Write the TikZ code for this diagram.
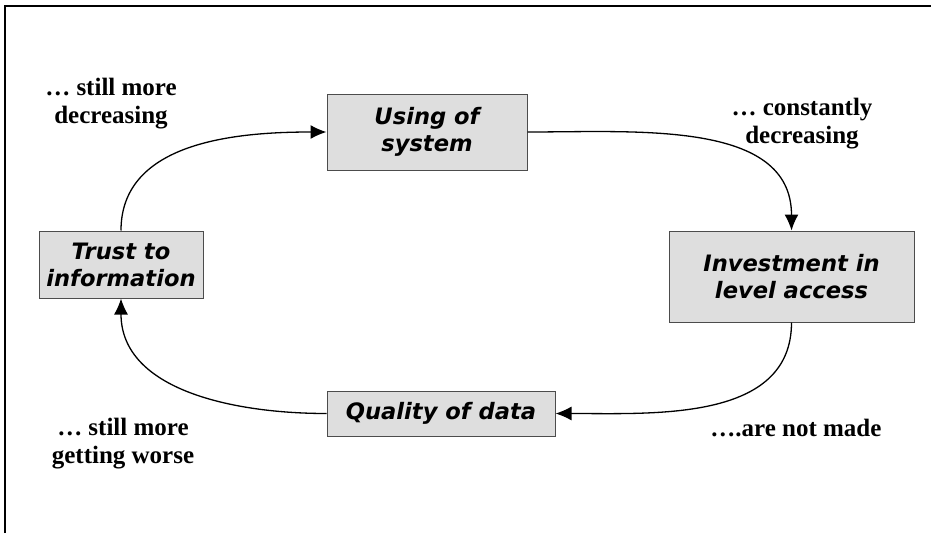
\documentclass[tikz,border=0pt]{standalone}
\usepackage{fontspec}
\setmainfont{Liberation Serif}
\newfontfamily\boxfont{DejaVu Sans}
\usetikzlibrary{arrows.meta}

\begin{document}
\begin{tikzpicture}[x=1pt,y=-1pt,
  stage/.style={draw=black!70,line width=1pt,fill=black!13,inner sep=0pt,
    align=center,font=\boxfont\bfseries\itshape\fontsize{22.6}{27}\selectfont},
  remark/.style={align=center,font=\bfseries\fontsize{25}{28}\selectfont},
  flow/.style={line width=1.3pt,-{Latex[length=16pt,width=14pt]}}]
\useasboundingbox (0,0) rectangle (931,533);
\draw[line width=1.8pt] (5,533) -- (5,6) -- (931,6);
% the four stages of the loop
\node[stage,minimum width=200,minimum height=76] (using) at (427,132) {Using of\\system};
\node[stage,minimum width=245,minimum height=91] (invest) at (791.5,276.5) {Investment in\\level access};
\node[stage,minimum width=228,minimum height=45] (quality) at (441,413.5) {Quality of data};
\node[stage,minimum width=164,minimum height=67] (trust) at (121,264.5) {Trust to\\information};
% comments beside each step
\node[remark] (r1) at (111,104) {… still more\\decreasing};
\node[remark] (r2) at (802,124) {… constantly\\decreasing};
\node[remark] (r3) at (123,444) {… still more\\getting worse};
\node[remark,anchor=east] (r4) at (885,427.5) {….are not made};
% arrows round the loop
\draw[flow] (trust.north) to[out=90,in=180] (using.west);
\draw[flow] (using.east) to[out=0,in=90] (invest.north);
\draw[flow] (invest.south) to[out=-90,in=0] (quality.east);
\draw[flow] (quality.west) to[out=180,in=-90] (trust.south);
\end{tikzpicture}
\end{document}
